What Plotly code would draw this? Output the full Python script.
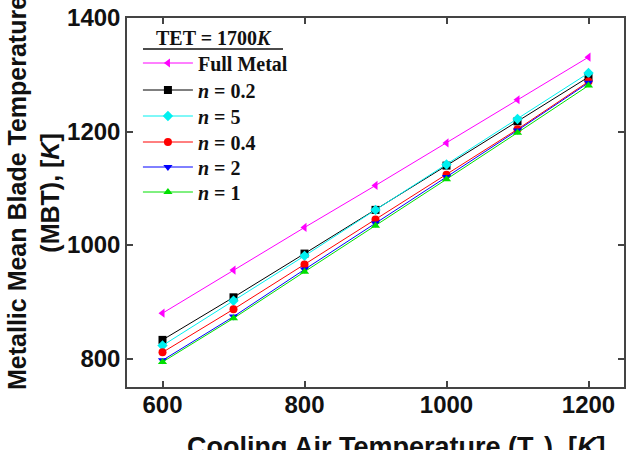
import plotly.graph_objects as go

x_vals = [600, 700, 800, 900, 1000, 1100, 1200]
full_metal = [880, 956, 1031, 1105, 1180, 1256, 1331]
n_02 = [833, 908, 985, 1062, 1140, 1218, 1296]
n_5 = [823, 902, 981, 1062, 1142, 1222, 1303]
n_04 = [811, 887, 966, 1045, 1124, 1204, 1288]
n_2 = [797, 874, 957, 1038, 1120, 1202, 1286]
n_1 = [794, 871, 953, 1034, 1116, 1198, 1281]

series = [
    ("<b>Full Metal</b>", full_metal, "#ff00ff", "triangle-left"),
    ("<b><i>n</i> = 0.2</b>", n_02, "#000000", "square"),
    ("<b><i>n</i> = 5</b>", n_5, "#00f0f0", "diamond"),
    ("<b><i>n</i> = 0.4</b>", n_04, "#ff0000", "circle"),
    ("<b><i>n</i> = 2</b>", n_2, "#0000ff", "triangle-down"),
    ("<b><i>n</i> = 1</b>", n_1, "#00e000", "triangle-up"),
]

# plot area in pixels (for placing legend rows)
L, R, T, B = 127, 624, 18, 387
H = B - T
row_px = [63, 90, 116, 142, 167, 192]

serif = "Liberation Serif, Times New Roman"
sans = "Arial, Liberation Sans"

fig = go.Figure()
legend_layout = {}
for i, (name, ys, col, sym) in enumerate(series):
    lname = "legend" if i == 0 else f"legend{i+1}"
    fig.add_trace(go.Scatter(
        x=x_vals, y=ys, name=name, mode="lines+markers",
        line=dict(color=col, width=1),
        marker=dict(symbol=sym, size=8, color=col),
        legend=lname,
    ))
    legend_layout[lname] = dict(
        x=0.022, y=(B - row_px[i]) / H, xanchor="left", yanchor="middle",
        bgcolor="rgba(0,0,0,0)", itemwidth=50,
        font=dict(family=serif, size=20, color="#111"),
    )

fig.update_layout(
    width=637, height=450,
    margin=dict(l=L, r=637 - R, t=T, b=450 - B, autoexpand=False),
    plot_bgcolor="white", paper_bgcolor="white",
    showlegend=True,
    xaxis=dict(
        range=[550, 1250], tickvals=[600, 800, 1000, 1200],
        ticks="inside", ticklen=6, tickcolor="#444", tickwidth=1.5,
        showline=True, linecolor="#444", linewidth=1.5, mirror="ticks",
        showgrid=False, zeroline=False, ticklabelstandoff=-5, automargin=False,
        tickfont=dict(family=sans, size=24, color="#111", weight="bold"),
    ),
    yaxis=dict(
        range=[750, 1400], tickvals=[800, 1000, 1200, 1400],
        ticks="inside", ticklen=6, tickcolor="#444", tickwidth=1.5,
        showline=True, linecolor="#444", linewidth=1.5, mirror="ticks",
        showgrid=False, zeroline=False, automargin=False,
        tickfont=dict(family=sans, size=24, color="#111", weight="bold"),
    ),
    **legend_layout,
)

# axis titles
fig.add_annotation(
    text="<b>Metallic Mean Blade Temperature<br>(MBT), [<i>K</i>]</b>",
    xref="paper", yref="paper", x=(33 - L) / (R - L), y=(B - 193) / H,
    xanchor="center", yanchor="middle", textangle=-90, showarrow=False,
    font=dict(family=sans, size=25, color="#111"),
)
fig.add_annotation(
    text="<b>Cooling Air Temperature (T<sub>c</sub>), [<i>K</i>]</b>",
    xref="paper", yref="paper", x=(396 - L) / (R - L), y=(B - 430) / H,
    xanchor="center", yanchor="top", showarrow=False,
    font=dict(family=sans, size=27, color="#111"),
)
# legend title with underline
fig.add_annotation(
    text="<b>TET = 1700<i>K</i></b>",
    xref="paper", yref="paper", x=(214 - L) / (R - L), y=(B - 38) / H,
    xanchor="center", yanchor="middle", showarrow=False,
    font=dict(family=serif, size=20, color="#111"),
)
fig.add_shape(type="line", xref="paper", yref="paper",
              x0=(143 - L) / (R - L), x1=(283 - L) / (R - L),
              y0=(B - 49) / H, y1=(B - 49) / H,
              line=dict(color="#111", width=1.5))

fig.write_html("out.html")
